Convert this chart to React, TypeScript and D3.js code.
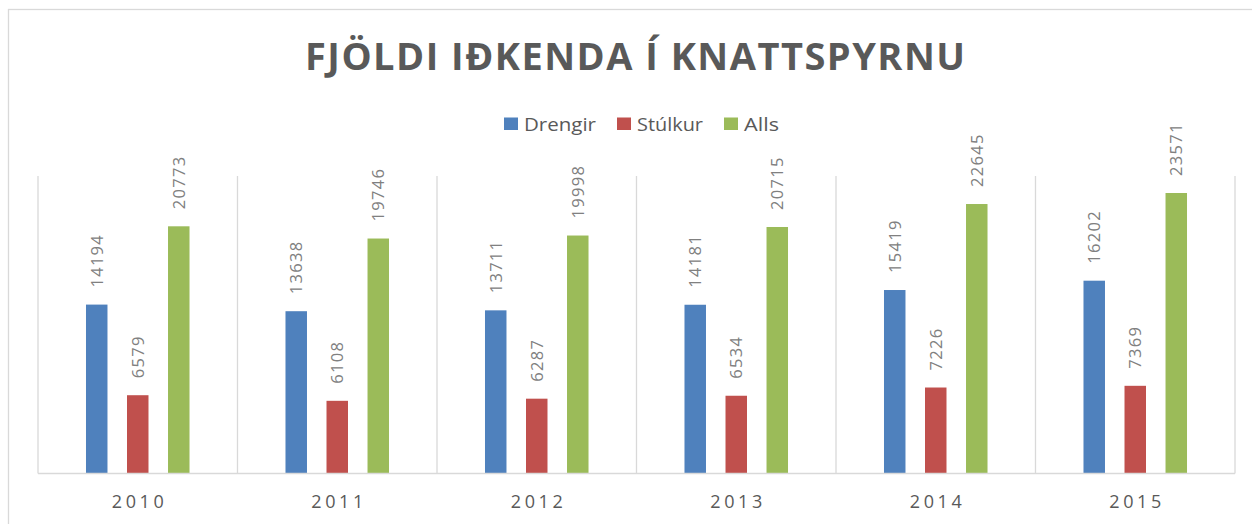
import React from "react";
import * as d3 from "d3";

const years = ["2010", "2011", "2012", "2013", "2014", "2015"];
const seriesNames = ["Drengir", "Stúlkur", "Alls"];
const drengir = [14194, 13638, 13711, 14181, 15419, 16202];
const stulkur = [6579, 6108, 6287, 6534, 7226, 7369];
const alls = [20773, 19746, 19998, 20715, 22645, 23571];
const colors = ["#4f81bd", "#c0504d", "#9bbb59"];
const title = "FJÖLDI IÐKENDA Í KNATTSPYRNU";

const W = 1252;
const H = 524;
const FONT = "'Open Sans', 'Liberation Sans', sans-serif";

export default function App() {
  const values = [drengir, stulkur, alls];
  const plotLeft = 38;
  const plotRight = 1235;
  const plotTop = 176;
  const plotBottom = 473.5;

  const x0 = d3.scaleBand<string>().domain(years).range([plotLeft, plotRight]).padding(0);
  const x1 = d3
    .scaleBand<string>()
    .domain(seriesNames)
    .range([0, x0.bandwidth()])
    .paddingInner(0.476)
    .paddingOuter(1.17);
  const y = d3.scaleLinear().domain([0, 25000]).range([plotBottom, plotTop]);

  const labelFs = 16.5;
  const labelLs = 1.3;
  const boundaries = years.map((yr) => x0(yr)!).concat([plotRight]);

  // legend layout
  const legendFs = 19;
  const legendWidths = [72, 66, 35];
  const sq = 14;
  const gapAfterSq = 6;
  const itemGap = 21;
  let lx = 504;
  const legendItems = seriesNames.map((name, i) => {
    const item = { name, x: lx, color: colors[i], w: legendWidths[i] };
    lx += sq + gapAfterSq + legendWidths[i] + itemGap;
    return item;
  });

  const axisLs = 3.6;

  return (
    <svg width={W} height={H} style={{ position: "absolute", left: 0, top: 0 }}>
      <rect x={0} y={0} width={W} height={H} fill="#ffffff" />
      <rect x={8.5} y={9.5} width={W + 20} height={H + 20} fill="#ffffff" stroke="#d9d9d9" strokeWidth={1.3} />
      <text
        x={305}
        y={70}
        textLength={660}
        lengthAdjust="spacing"
        fontFamily={FONT}
        fontWeight={700}
        fontSize={38}
        fill="#595959"
      >
        {title}
      </text>
      {legendItems.map((it) => (
        <g key={it.name}>
          <rect x={it.x} y={117.5} width={sq} height={sq - 1.5} fill={it.color} />
          <text
            x={it.x + sq + gapAfterSq}
            y={131}
            fontFamily={FONT}
            fontSize={legendFs}
            fill="#595959"
            textLength={it.w}
            lengthAdjust="spacingAndGlyphs"
          >
            {it.name}
          </text>
        </g>
      ))}
      {boundaries.map((bx, i) => (
        <line key={i} x1={bx} x2={bx} y1={plotTop} y2={plotBottom} stroke="#d9d9d9" strokeWidth={1.3} />
      ))}
      {years.map((yr, ci) => (
        <g key={yr}>
          {seriesNames.map((s, si) => {
            const v = values[si][ci];
            const bx = x0(yr)! + x1(s)!;
            const cx = bx + x1.bandwidth() / 2;
            const top = y(v);
            const tx = cx + labelFs * 0.36;
            const ty = top - 17;
            return (
              <g key={s}>
                <rect x={bx} y={top} width={x1.bandwidth()} height={plotBottom - top} fill={colors[si]} />
                <text
                  transform={`translate(${tx},${ty}) rotate(-90)`}
                  fontFamily={FONT}
                  fontSize={labelFs}
                  letterSpacing={labelLs}
                  fill="#808080"
                >
                  {v}
                </text>
              </g>
            );
          })}
          <text
            x={x0(yr)! + x0.bandwidth() / 2 + axisLs / 2}
            y={508}
            textAnchor="middle"
            fontFamily={FONT}
            fontSize={18}
            letterSpacing={axisLs}
            fill="#595959"
          >
            {yr}
          </text>
        </g>
      ))}
      <line x1={plotLeft} x2={plotRight} y1={plotBottom} y2={plotBottom} stroke="#d9d9d9" strokeWidth={1.5} />
    </svg>
  );
}
